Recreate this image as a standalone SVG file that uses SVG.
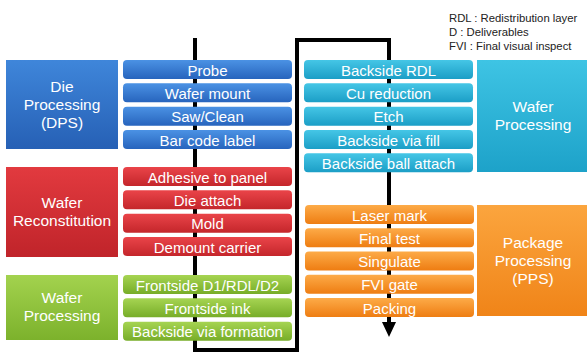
<svg xmlns="http://www.w3.org/2000/svg" width="587" height="352" viewBox="0 0 587 352">
<defs>
<linearGradient id="gBlueBig" x1="0" y1="0" x2="0" y2="1"><stop offset="0" stop-color="#3f86da"/><stop offset="1" stop-color="#2660b5"/></linearGradient>
<linearGradient id="gBlue" x1="0" y1="0" x2="0" y2="1"><stop offset="0" stop-color="#4b92e4"/><stop offset="1" stop-color="#2764bd"/></linearGradient>
<linearGradient id="gRedBig" x1="0" y1="0" x2="0" y2="1"><stop offset="0" stop-color="#e23a3f"/><stop offset="1" stop-color="#c0242a"/></linearGradient>
<linearGradient id="gRed" x1="0" y1="0" x2="0" y2="1"><stop offset="0" stop-color="#ea4449"/><stop offset="1" stop-color="#c4262b"/></linearGradient>
<linearGradient id="gGreenBig" x1="0" y1="0" x2="0" y2="1"><stop offset="0" stop-color="#a3d24e"/><stop offset="1" stop-color="#7cb22c"/></linearGradient>
<linearGradient id="gGreen" x1="0" y1="0" x2="0" y2="1"><stop offset="0" stop-color="#a6d452"/><stop offset="1" stop-color="#77ad28"/></linearGradient>
<linearGradient id="gCyanBig" x1="0" y1="0" x2="0" y2="1"><stop offset="0" stop-color="#3ec4e4"/><stop offset="1" stop-color="#1da2c9"/></linearGradient>
<linearGradient id="gCyan" x1="0" y1="0" x2="0" y2="1"><stop offset="0" stop-color="#45c6e6"/><stop offset="1" stop-color="#1b9ec6"/></linearGradient>
<linearGradient id="gOrangeBig" x1="0" y1="0" x2="0" y2="1"><stop offset="0" stop-color="#fba53e"/><stop offset="1" stop-color="#f08418"/></linearGradient>
<linearGradient id="gOrange" x1="0" y1="0" x2="0" y2="1"><stop offset="0" stop-color="#fdab48"/><stop offset="1" stop-color="#ee7d12"/></linearGradient>
</defs>
<style>
text{font-family:"Liberation Sans",Arial,sans-serif;fill:#fff;text-anchor:middle}
.step{font-size:15px}
.big{font-size:15.5px}
.legend{font-size:11.3px;fill:#222;text-anchor:start}
.flow{fill:none;stroke:#000;stroke-width:4;stroke-linejoin:miter}
</style>
<g id="connectors">
<path class="flow" d="M195 38 V350 H297 V40 H389 V324"/>
<polygon points="382,322 396,322 389,337" fill="#000"/>
</g>
<g id="legend">
<text class="legend" x="449" y="22">RDL : Redistribution layer</text>
<text class="legend" x="449" y="36">D : Deliverables</text>
<text class="legend" x="449" y="50">FVI : Final visual inspect</text>
</g>
<g id="dps">
<rect x="6" y="60" width="112" height="89" fill="url(#gBlueBig)"/>
<text class="big" x="62" y="92">Die</text>
<text class="big" x="62" y="110">Processing</text>
<text class="big" x="62" y="128">(DPS)</text>
</g>
<g id="probe"><rect x="123" y="60" width="169" height="19" rx="4" fill="url(#gBlue)"/><text class="step" x="207.5" y="75.5">Probe</text></g>
<g id="wafer-mount"><rect x="123" y="83.3" width="169" height="19" rx="4" fill="url(#gBlue)"/><text class="step" x="207.5" y="98.8">Wafer mount</text></g>
<g id="saw-clean"><rect x="123" y="106.7" width="169" height="19" rx="4" fill="url(#gBlue)"/><text class="step" x="207.5" y="122.2">Saw/Clean</text></g>
<g id="bar-code"><rect x="123" y="130" width="169" height="19" rx="4" fill="url(#gBlue)"/><text class="step" x="207.5" y="145.5">Bar code label</text></g>
<g id="reconstitution">
<rect x="6" y="167" width="112" height="90" fill="url(#gRedBig)"/>
<text class="big" x="62" y="208">Wafer</text>
<text class="big" x="62" y="226">Reconstitution</text>
</g>
<g id="adhesive"><rect x="123" y="167" width="169" height="19" rx="4" fill="url(#gRed)"/><text class="step" x="207.5" y="182.5">Adhesive to panel</text></g>
<g id="die-attach"><rect x="123" y="190.3" width="169" height="19" rx="4" fill="url(#gRed)"/><text class="step" x="207.5" y="205.8">Die attach</text></g>
<g id="mold"><rect x="123" y="213.7" width="169" height="19" rx="4" fill="url(#gRed)"/><text class="step" x="207.5" y="229.2">Mold</text></g>
<g id="demount"><rect x="123" y="237" width="169" height="19" rx="4" fill="url(#gRed)"/><text class="step" x="207.5" y="252.5">Demount carrier</text></g>
<g id="wafer-processing-front">
<rect x="6" y="275" width="112" height="65" fill="url(#gGreenBig)"/>
<text class="big" x="62" y="303">Wafer</text>
<text class="big" x="62" y="321">Processing</text>
</g>
<g id="frontside-d1"><rect x="123" y="275" width="169" height="19" rx="4" fill="url(#gGreen)"/><text class="step" x="207.5" y="290.5">Frontside D1/RDL/D2</text></g>
<g id="frontside-ink"><rect x="123" y="298.3" width="169" height="19" rx="4" fill="url(#gGreen)"/><text class="step" x="207.5" y="313.8">Frontside ink</text></g>
<g id="backside-via-formation"><rect x="123" y="321.7" width="169" height="19" rx="4" fill="url(#gGreen)"/><text class="step" x="207.5" y="337.2">Backside via formation</text></g>
<g id="wafer-processing-back">
<rect x="477" y="60" width="110" height="112" fill="url(#gCyanBig)"/>
<text class="big" x="533" y="112">Wafer</text>
<text class="big" x="533" y="130">Processing</text>
</g>
<g id="backside-rdl"><rect x="304" y="60" width="169" height="19" rx="4" fill="url(#gCyan)"/><text class="step" x="388.5" y="75.5">Backside RDL</text></g>
<g id="cu-reduction"><rect x="304" y="83.3" width="169" height="19" rx="4" fill="url(#gCyan)"/><text class="step" x="388.5" y="98.8">Cu reduction</text></g>
<g id="etch"><rect x="304" y="106.7" width="169" height="19" rx="4" fill="url(#gCyan)"/><text class="step" x="388.5" y="122.2">Etch</text></g>
<g id="backside-via-fill"><rect x="304" y="130" width="169" height="19" rx="4" fill="url(#gCyan)"/><text class="step" x="388.5" y="145.5">Backside via fill</text></g>
<g id="backside-ball"><rect x="304" y="153.3" width="169" height="19" rx="4" fill="url(#gCyan)"/><text class="step" x="388.5" y="168.8">Backside ball attach</text></g>
<g id="pps">
<rect x="477" y="205" width="110" height="111" fill="url(#gOrangeBig)"/>
<text class="big" x="533" y="248">Package</text>
<text class="big" x="533" y="266">Processing</text>
<text class="big" x="533" y="284">(PPS)</text>
</g>
<g id="laser-mark"><rect x="305" y="205" width="169" height="19" rx="4" fill="url(#gOrange)"/><text class="step" x="389.5" y="220.5">Laser mark</text></g>
<g id="final-test"><rect x="305" y="228.2" width="169" height="19" rx="4" fill="url(#gOrange)"/><text class="step" x="389.5" y="243.7">Final test</text></g>
<g id="singulate"><rect x="305" y="251.5" width="169" height="19" rx="4" fill="url(#gOrange)"/><text class="step" x="389.5" y="267">Singulate</text></g>
<g id="fvi-gate"><rect x="305" y="274.7" width="169" height="19" rx="4" fill="url(#gOrange)"/><text class="step" x="389.5" y="290.2">FVI gate</text></g>
<g id="packing"><rect x="305" y="298" width="169" height="19" rx="4" fill="url(#gOrange)"/><text class="step" x="389.5" y="313.5">Packing</text></g>
</svg>
